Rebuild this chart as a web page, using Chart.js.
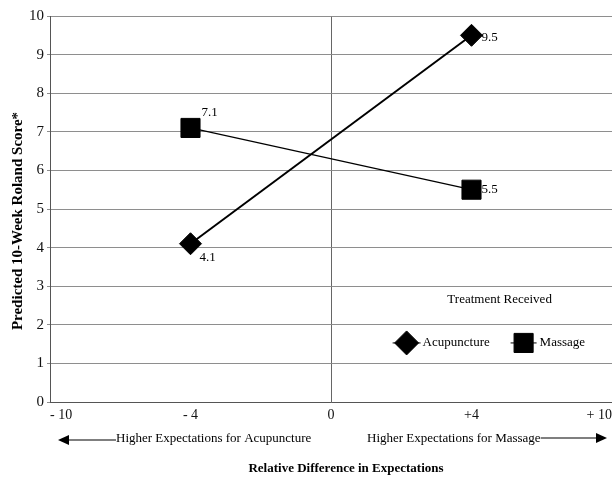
<!DOCTYPE html>
<html><head><meta charset="utf-8">
<script src="https://cdn.jsdelivr.net/npm/chart.js@4.4.0/dist/chart.umd.min.js"></script>
<style>html,body{margin:0;padding:0;background:#fff;} #wrap{width:612px;height:477px;}</style>
</head><body><div id="wrap"><canvas id="c" width="612" height="477"></canvas></div>
<script>
const xCategories = ['-10', '-4', '0', '+4', '+10'];
const xTickLabels = ['- 10', '- 4', '0', '+4', '+ 10'];
const pointCategories = ['-4', '+4'];
const acupuncture = [4.1, 9.5];
const massage = [7.1, 5.5];
const yMin = 0, yMax = 10, yStep = 1;
const seriesNames = ['Acupuncture', 'Massage'];
const legendTitle = 'Treatment Received';
const yTitle = 'Predicted 10-Week Roland Score*';
const xTitle = 'Relative Difference in Expectations';
const leftNote = 'Higher Expectations for Acupuncture';
const rightNote = 'Higher Expectations for Massage';

const SERIF = '"Liberation Serif", "Times New Roman", serif';

function toPoints(vals) { return pointCategories.map((c, i) => ({ x: c, y: vals[i] })); }

function drawMarker(ctx, style, x, y, r) {
  ctx.beginPath();
  if (style === 'rectRot') {
    ctx.moveTo(x - r, y); ctx.lineTo(x, y - r); ctx.lineTo(x + r, y); ctx.lineTo(x, y + r); ctx.closePath();
  } else {
    const h = Math.SQRT1_2 * r;
    ctx.rect(x - h, y - h, 2 * h, 2 * h);
  }
  ctx.fill(); ctx.stroke();
}

const labelOffsets = [[[9, 14], [10, 2]], [[11, -15], [10, 0]]];

const annot = {
  id: 'annot',
  afterDraw(chart) {
    const { ctx, chartArea: a, scales: { x, y } } = chart;
    ctx.save();
    ctx.fillStyle = '#000'; ctx.strokeStyle = '#000';
    // data labels
    ctx.font = '13px ' + SERIF;
    ctx.textAlign = 'left'; ctx.textBaseline = 'middle';
    chart.data.datasets.forEach((ds, i) => {
      chart.getDatasetMeta(i).data.forEach((pt, j) => {
        const o = labelOffsets[i][j];
        ctx.fillText(ds.data[j].y.toFixed(1), pt.x + o[0], pt.y + o[1]);
      });
    });
    // y title
    ctx.save();
    ctx.translate(18, (a.top + a.bottom) / 2 + 12);
    ctx.rotate(-Math.PI / 2);
    ctx.font = 'bold 15px ' + SERIF;
    ctx.textAlign = 'center';
    ctx.fillText(yTitle, 0, 0);
    ctx.restore();
    // x title
    const x0 = x.getPixelForValue(2);
    ctx.font = 'bold 13px ' + SERIF;
    ctx.textAlign = 'center';
    ctx.fillText(xTitle, x0 + 15, 469);
    // notes with arrows
    ctx.font = '13px ' + SERIF;
    ctx.textAlign = 'left';
    const ny = 439;
    const lStart = 116;
    ctx.fillText(leftNote, lStart, ny);
    const rStart = 367;
    ctx.fillText(rightNote, rStart, ny);
    const rEnd = rStart + ctx.measureText(rightNote).width;
    ctx.lineWidth = 1.2;
    ctx.beginPath();
    ctx.moveTo(x.left + 12, ny + 1); ctx.lineTo(lStart, ny + 1);
    ctx.moveTo(rEnd, ny - 1); ctx.lineTo(x.right - 12, ny - 1);
    ctx.stroke();
    ctx.beginPath();
    ctx.moveTo(x.left + 8, ny + 1); ctx.lineTo(x.left + 19, ny - 4); ctx.lineTo(x.left + 19, ny + 6); ctx.closePath();
    ctx.fill();
    ctx.beginPath();
    ctx.moveTo(x.right - 5, ny - 1); ctx.lineTo(x.right - 16, ny - 6); ctx.lineTo(x.right - 16, ny + 4); ctx.closePath();
    ctx.fill();
    // legend
    const cx = a.left + (a.right - a.left) * 0.8;
    const ty = y.getPixelForValue(2.65);
    ctx.font = '13px ' + SERIF;
    ctx.textAlign = 'center';
    ctx.fillText(legendTitle, cx, ty);
    const ry = y.getPixelForValue(1.53);
    const items = [
      { ds: chart.data.datasets[0], mx: cx - 93, half: 14, tx: cx - 77, r: 12 },
      { ds: chart.data.datasets[1], mx: cx + 24, half: 13, tx: cx + 40, r: 13.5 }
    ];
    ctx.textAlign = 'left';
    items.forEach(it => {
      ctx.lineWidth = 1;
      ctx.strokeStyle = '#000';
      ctx.beginPath(); ctx.moveTo(it.mx - it.half, ry); ctx.lineTo(it.mx + it.half, ry); ctx.stroke();
      ctx.fillStyle = '#000';
      drawMarker(ctx, it.ds.pointStyle, it.mx, ry, it.r);
      ctx.fillText(it.ds.label, it.tx, ry);
    });
    ctx.restore();
  }
};

new Chart(document.getElementById('c'), {
  type: 'line',
  data: {
    labels: xCategories,
    datasets: [
      {
        label: seriesNames[0], data: toPoints(acupuncture),
        borderColor: '#000', borderWidth: 2, backgroundColor: '#000',
        pointStyle: 'rectRot', pointRadius: 11, pointBackgroundColor: '#000',
        pointBorderColor: '#000', pointBorderWidth: 1, fill: false, tension: 0
      },
      {
        label: seriesNames[1], data: toPoints(massage),
        borderColor: '#000', borderWidth: 1.2, backgroundColor: '#000',
        pointStyle: 'rect', pointRadius: 13.5, pointBackgroundColor: '#000',
        pointBorderColor: '#000', pointBorderWidth: 1, fill: false, tension: 0
      }
    ]
  },
  options: {
    responsive: false,
    animation: false,
    devicePixelRatio: 1,
    layout: { autoPadding: false, padding: { top: 16, right: 0, left: 0, bottom: 0 } },
    plugins: { legend: { display: false }, tooltip: { enabled: false } },
    scales: {
      x: {
        type: 'category',
        offset: false,
        afterFit(s) { s.height = 75; s.paddingLeft = 0; s.paddingRight = 0; },
        grid: {
          drawTicks: false,
          color: c => (c.index === 2 ? '#666' : 'rgba(0,0,0,0)'),
          lineWidth: 1
        },
        border: { display: true, color: '#555', width: 1 },
        ticks: {
          align: 'inner', padding: 5, color: '#111', autoSkip: false, maxRotation: 0,
          font: { family: SERIF, size: 14 },
          callback: (v, i) => xTickLabels[i]
        }
      },
      y: {
        min: yMin, max: yMax,
        afterFit(s) { s.width = 50; },
        grid: { color: '#8e8e8e', lineWidth: 1, tickLength: 3 },
        border: { display: true, color: '#555', width: 1 },
        ticks: { stepSize: yStep, padding: 3, color: '#111', font: { family: SERIF, size: 15 } }
      }
    }
  },
  plugins: [annot]
});
</script></body></html>
